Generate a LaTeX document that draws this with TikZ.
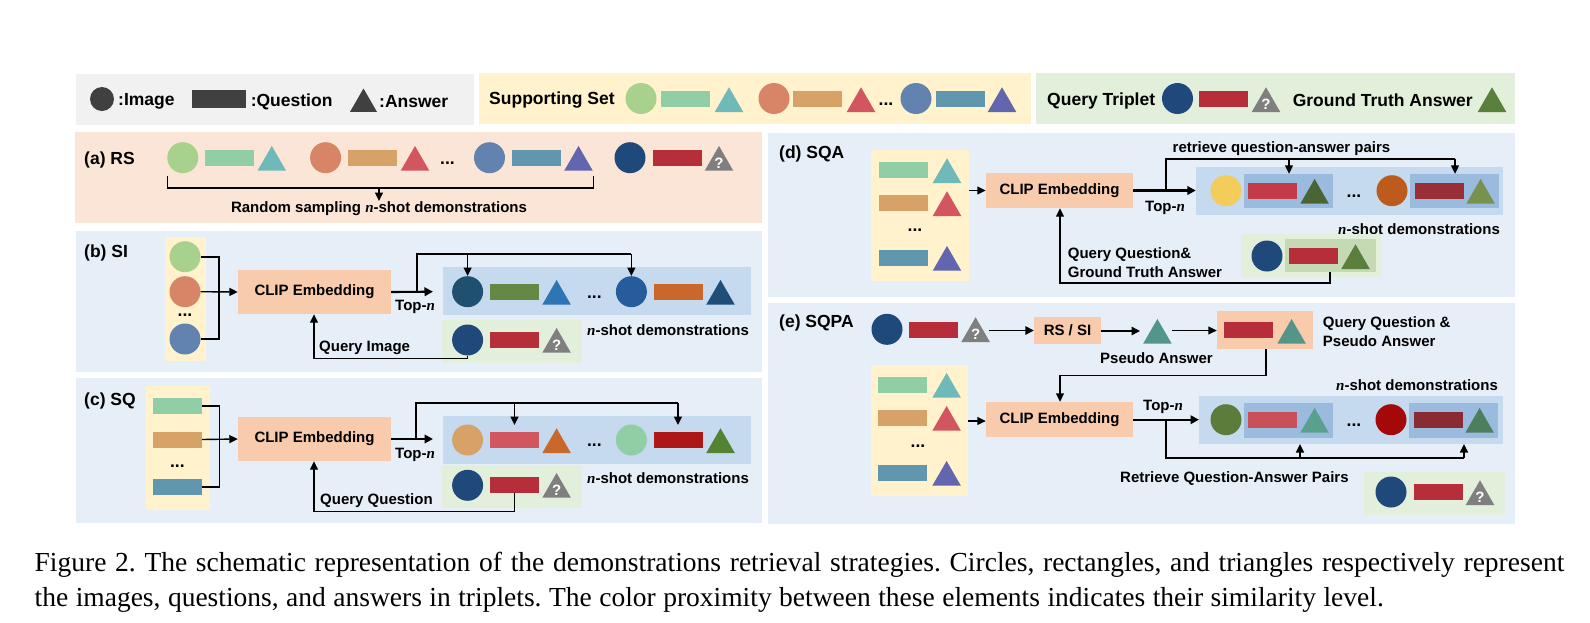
\documentclass[tikz,border=0pt]{standalone}
\usepackage{fontspec}
\setmainfont{Liberation Sans}
\newfontfamily\capfont{Liberation Serif}
\usetikzlibrary{arrows.meta,shapes.geometric}
\definecolor{pgray}{HTML}{F1F1F1}\definecolor{pyel}{HTML}{FFF2CC}\definecolor{pgrn}{HTML}{E2EFDA}
\definecolor{ppch}{HTML}{FBE5D6}\definecolor{pblu}{HTML}{E6EEF8}\definecolor{bband}{HTML}{C5D9EF}
\definecolor{iband}{HTML}{9ABBDD}\definecolor{clipc}{HTML}{F8CBAD}\definecolor{igrn}{HTML}{C5D9B4}
\definecolor{dk}{HTML}{404040}
\definecolor{lgr}{HTML}{A9D18E}\definecolor{mint}{HTML}{92CEA5}\definecolor{teal}{HTML}{6FB9B9}
\definecolor{salm}{HTML}{D78566}\definecolor{tanc}{HTML}{D7A268}\definecolor{rose}{HTML}{D25660}
\definecolor{stee}{HTML}{6282B0}\definecolor{blug}{HTML}{6096AE}\definecolor{purp}{HTML}{6266AE}
\definecolor{navy}{HTML}{20497B}\definecolor{redq}{HTML}{B62E3A}\definecolor{gryq}{HTML}{7F7F7F}
\definecolor{gta}{HTML}{5B7F3D}
\definecolor{b1}{HTML}{20506F}\definecolor{b2}{HTML}{658945}\definecolor{b3}{HTML}{2E75B6}
\definecolor{b4}{HTML}{265B9C}\definecolor{b5}{HTML}{C8682A}\definecolor{b6}{HTML}{1F4E79}
\definecolor{c5}{HTML}{AE1717}\definecolor{c6}{HTML}{548235}
\definecolor{d1}{HTML}{F3CC5C}\definecolor{d2}{HTML}{C33B46}\definecolor{d3}{HTML}{4A6535}
\definecolor{d4}{HTML}{BC5B1C}\definecolor{d5}{HTML}{9A2E36}\definecolor{d6}{HTML}{76924E}
\definecolor{e0}{HTML}{52968A}\definecolor{e1}{HTML}{5B7C3A}\definecolor{e2}{HTML}{C95058}
\definecolor{e3}{HTML}{5AA08F}\definecolor{e4}{HTML}{A50808}\definecolor{e5}{HTML}{8A2A32}\definecolor{e6}{HTML}{4B7F5D}
\newcommand{\fsA}{\fontsize{15}{18}\selectfont}
\newcommand{\fsB}{\fontsize{17.5}{21}\selectfont}
\newcommand{\nn}{{\capfont\bfseries\itshape n}}
\tikzset{
  imgn/.style={circle,inner sep=0pt,minimum size=31,fill=#1},
  qnn/.style={rectangle,inner sep=0pt,minimum width=49,minimum height=16,fill=#1},
  ann/.style={regular polygon,regular polygon sides=3,inner sep=0pt,minimum size=33,fill=#1},
  lab/.style={inner sep=0pt,font=\bfseries\fsA,anchor=west,yshift=-1.2pt},
  labB/.style={inner sep=0pt,font=\bfseries\fsB,anchor=west,yshift=-1.5pt},
  dots/.style={inner sep=0pt,font=\bfseries\fsB,anchor=base},
  conn/.style={line width=1.7pt,black},
  arr/.style={line width=2.1pt,black,-{Triangle[length=8.5pt,width=8.5pt]}},
  thin arr/.style={line width=1.4pt,black,-{Triangle[length=8.5pt,width=8pt]}},
  back arr/.style={line width=1.4pt,black,-{Triangle[length=8.5pt,width=8pt]}},
  capl/.style={inner sep=0pt,anchor=base west,font=\capfont\fontsize{27.5}{34}\selectfont},
}
\newcommand{\Cc}[4]{\node[imgn=#4] (#1) at (#2,#3) {};}
\newcommand{\Qq}[4]{\node[qnn=#4] (#1) at (#2,#3) {};}
\newcommand{\Aa}[4]{\node[ann=#4] (#1) at (#2,#3-8.25) {};}
\newcommand{\Aq}[3]{\node[ann=gryq] (#1) at (#2,#3-8.25) {};\node[inner sep=0pt,text=white,font=\bfseries\fsA] (#1q) at (#2,#3-7.5) {?};}
\newcommand{\Bx}[7]{\pgfmathsetmacro\cxa{(#2+#4)/2}\pgfmathsetmacro\cya{(#3+#5)/2}\pgfmathsetmacro\wa{#4-#2}\pgfmathsetmacro\ha{#5-#3}%
  \node[rectangle,inner sep=0pt,fill=#6,minimum width=\wa,minimum height=\ha,font=\bfseries\fsA] (#1) at (\cxa,\cya) {#7};}
\begin{document}
\begin{tikzpicture}[x=1pt,y=-1pt]
\useasboundingbox (0,0) rectangle (1590,622);
% ---------- panels
\Bx{lg}{76}{74}{474}{125}{pgray}{}
\Bx{ly}{479}{73}{1031}{124}{pyel}{}
\Bx{lq}{1036}{73}{1515}{124}{pgrn}{}
\Bx{pa}{75}{132}{762}{223}{ppch}{}
\Bx{pb}{76}{231}{762}{372}{pblu}{}
\Bx{pc}{76}{378}{762}{523}{pblu}{}
\Bx{pd}{768}{133}{1515}{297}{pblu}{}
\Bx{pe}{768}{303}{1515}{524}{pblu}{}
% ---------- legend
\node[imgn=dk,minimum size=24] (lgc) at (102,99) {};
\node[labB] (lgct) at (118,100) {:Image};
\node[qnn=dk,minimum width=54,minimum height=18] (lgr) at (219,99) {};
\node[labB] (lgrt) at (250.6,100) {:Question};
\node[ann=dk,minimum size=31] (lga) at (363.5,104) {};
\node[labB] (lgat) at (379,100) {:Answer};
\node[labB] (lyt) at (489,99) {Supporting Set};
\Cc{ly1}{641}{98.5}{lgr}\Qq{ly2}{685.4}{99}{mint}\Aa{ly3}{729}{112}{teal}
\Cc{ly4}{774}{98.5}{salm}\Qq{ly5}{817.6}{99}{tanc}\Aa{ly6}{861}{112}{rose}
\node[dots] (lyd) at (886,105) {...};
\Cc{ly7}{916}{98.5}{stee}\Qq{ly8}{960}{99}{blug}\Aa{ly9}{1002}{112}{purp}
\node[labB] (lqt) at (1047,99) {Query Triplet};
\Cc{lq1}{1177.5}{98.5}{navy}\Qq{lq2}{1223}{99}{redq}\Aq{lq3}{1266}{112}
\node[labB] (lqg) at (1292.6,99) {Ground Truth Answer};
\Aa{lq4}{1492}{112}{gta}
% ---------- (a)
\node[labB] (at) at (84,158.7) {(a) RS};
\Cc{a1}{182.8}{157.7}{lgr}\Qq{a2}{229.6}{158}{mint}\Aa{a3}{271.8}{170.7}{teal}
\Cc{a4}{325.6}{157.7}{salm}\Qq{a5}{372.5}{158}{tanc}\Aa{a6}{415}{170.7}{rose}
\node[dots] (ad) at (447.5,164) {...};
\Cc{a7}{489.5}{157.7}{stee}\Qq{a8}{536}{158}{blug}\Aa{a9}{578.5}{170.7}{purp}
\Cc{a10}{630}{157.7}{navy}\Qq{a11}{677.4}{158}{redq}\Aq{a12}{719}{170.7}
\coordinate (abl) at (167.6,176);\coordinate (abr) at (593.5,176);
\coordinate (abm) at (379,188);\coordinate (abe) at (379,201);
\draw[conn] (abl) |- (abm) -| (abr);
\draw[thin arr] (abm) -- (abe);
\node[lab,anchor=center] (atx) at (379,207.5) {Random sampling \nn-shot demonstrations};
% ---------- (b)
\node[labB] (bt) at (84,251) {(b) SI};
\Bx{by}{165}{237}{206}{361}{pyel}{}
\Cc{bi1}{185}{256.7}{lgr}\Cc{bi2}{185}{291.7}{salm}\Cc{bi3}{185}{339}{stee}
\node[dots] (byd) at (185,316.7) {...};
\Bx{bclip}{238}{270}{391}{314}{clipc}{CLIP Embedding}
\coordinate (bv) at (219,291.7);
\draw[conn] (bi1.east) -| (bv);
\draw[conn] (bi3.east) -| (bv);
\draw[thin arr] (bi2.east) -- (bclip.west);
\Bx{bb}{443}{267}{751}{315}{bband}{}
\Cc{b11}{467.6}{291.7}{b1}\Qq{b12}{514.5}{292}{b2}\Aa{b13}{556.6}{304.7}{b3}
\node[dots] (bbd) at (594.4,298.3) {...};
\Cc{b14}{631.4}{291.7}{b4}\Qq{b15}{678.5}{292}{b5}\Aa{b16}{720.5}{304.7}{b6}
\coordinate (bo) at (433,291.7);\coordinate (bj) at (416.7,291.7);
\coordinate (bt1) at (416.7,254.3);\coordinate (bt2) at (467.6,254.3);\coordinate (bt3) at (631.4,254.3);
\draw[arr] (bclip.east) -- (bo);
\draw[conn] (bj) -- (bt1) -- (bt3);
\draw[thin arr] (bt2) -- (b11.north);
\draw[thin arr] (bt3) -- (b14.north);
\node[lab] (btop) at (395,306) {Top-\nn};
\Bx{bg}{442}{320}{582}{363}{pgrn}{}
\Cc{bq1}{467.6}{340}{navy}\Qq{bq2}{514.5}{340}{redq}\Aq{bq3}{556.6}{352.7}
\node[lab] (bn) at (587,329) {\nn-shot demonstrations};
\coordinate (bq) at (314,358.7);
\draw[back arr] (bq1.south) |- (bq) -- (bclip.south -| bq);
\node[lab] (bqt) at (319,347) {Query Image};
% ---------- (c)
\node[labB] (ct) at (84,399.7) {(c) SQ};
\Bx{cy}{146}{386}{210}{510}{pyel}{}
\Qq{ci1}{177.4}{406}{mint}\Qq{ci2}{177.4}{439.5}{tanc}\Qq{ci3}{177.4}{487}{blug}
\node[dots] (cyd) at (177.4,467.7) {...};
\Bx{cclip}{238}{417}{391}{461}{clipc}{CLIP Embedding}
\coordinate (cv) at (219.4,439.5);
\draw[conn] (ci1.east) -| (cv);
\draw[conn] (ci3.east) -| (cv);
\draw[thin arr] (ci2.east) -- (cclip.west);
\Bx{cb}{443}{416}{751}{464}{bband}{}
\Cc{c11}{467.6}{440}{tanc}\Qq{c12}{514.5}{440}{rose}\Aa{c13}{556.6}{453}{b5}
\node[dots] (cbd) at (594.4,446) {...};
\Cc{c14}{631.4}{440}{mint}\Qq{c15}{678.5}{440}{c5}\Aa{c16}{720.5}{453}{c6}
\coordinate (co) at (433,439);\coordinate (cj) at (416,439);
\coordinate (ct1) at (416,403.3);\coordinate (ct2) at (514.5,403.3);\coordinate (ct3) at (678,403.3);
\coordinate (ca2) at (514.5,425);\coordinate (ca3) at (678,425);
\draw[arr] (cclip.east) -- (co);
\draw[conn] (cj) -- (ct1) -- (ct3);
\draw[thin arr] (ct2) -- (ca2);
\draw[thin arr] (ct3) -- (ca3);
\node[lab] (ctop) at (395,454) {Top-\nn};
\Bx{cg}{442}{465}{582}{508}{pgrn}{}
\Cc{cq1}{467.6}{485.3}{navy}\Qq{cq2}{514.5}{485}{redq}\Aq{cq3}{556.6}{497.7}
\node[lab] (cn) at (587,477.3) {\nn-shot demonstrations};
\coordinate (cq) at (314,511.7);
\draw[back arr] (cq2.south) |- (cq) -- (cclip.south -| cq);
\node[lab] (cqt) at (320,499) {Query Question};
% ---------- (d)
\node[labB] (dt) at (779,152) {(d) SQA};
\Bx{dy}{871}{150}{969}{281}{pyel}{}
\Qq{ds1}{903}{170}{mint}\Aa{ds2}{947}{183}{teal}
\Qq{ds3}{903}{203}{tanc}\Aa{ds4}{947}{216}{rose}
\node[dots] (dyd) at (915,231.7) {...};
\Qq{ds5}{903}{258}{blug}\Aa{ds6}{947}{270.7}{purp}
\Bx{dclip}{986}{173}{1133}{208}{clipc}{CLIP Embedding}
\coordinate (din) at (969,190.5);
\draw[thin arr] (din) -- (dclip.west |- din);
\Bx{db}{1196}{167}{1503}{215}{bband}{}
\Cc{d11}{1226}{190.7}{d1}
\Bx{di1}{1244}{174}{1333}{208}{iband}{}
\Qq{d12}{1272.7}{191}{d2}\Aa{d13}{1314.6}{203.7}{d3}
\node[dots] (dbd) at (1354,197) {...};
\Cc{d14}{1392}{190.7}{d4}
\Bx{di2}{1410}{174}{1499}{208}{iband}{}
\Qq{d15}{1439}{191}{d5}\Aa{d16}{1480.6}{203.7}{d6}
\coordinate (dj) at (1166,190.5);\coordinate (dt1) at (1166,158.7);\coordinate (dt2) at (1289,158.7);\coordinate (dt3) at (1455,158.7);
\draw[arr] (dclip.east |- dj) -- (db.west |- dj);
\draw[conn] (dj) -- (dt1) -- (dt3);
\draw[thin arr] (dt2) -- (di1.north -| dt2);
\draw[thin arr] (dt3) -- (di2.north -| dt3);
\node[lab] (dr) at (1172.5,147) {retrieve question-answer pairs};
\node[lab] (dtop) at (1145,206.7) {Top-\nn};
\node[lab] (dn) at (1338,227.7) {\nn-shot demonstrations};
\Bx{dg}{1241}{234}{1381}{277}{pgrn}{}
\Cc{dq1}{1267}{256}{navy}
\Bx{dgi}{1285.4}{239}{1376}{272}{igrn}{}
\Qq{dq2}{1313.6}{256}{redq}\Aa{dq3}{1355.5}{269}{gta}
\coordinate (dqs) at (1330,272);\coordinate (dqb) at (1330,283);\coordinate (dqc) at (1060,283);
\draw[back arr] (dqs) -- (dqb) -- (dqc) -- (dclip.south -| dqc);
\node[lab] (dq4) at (1067.7,253.3) {Query Question\&};
\node[lab] (dq5) at (1067.7,271) {Ground Truth Answer};
% ---------- (e)
\node[labB] (et) at (779,321.7) {(e) SQPA};
\Cc{e1c}{887}{329.3}{navy}\Qq{e2c}{933.5}{330}{redq}\Aq{e3c}{975.6}{342}
\Bx{ers}{1034}{317}{1101}{344}{clipc}{RS / SI}
\Aa{epa}{1157.4}{343.7}{e0}
\Bx{eqp}{1217}{311}{1313}{349}{clipc}{}
\Qq{eq1}{1248.6}{330}{redq}\Aa{eq2}{1291.6}{343.7}{e0}
\coordinate (ea1) at (989,330.5);
\draw[arr,line width=1.6pt] (ea1) -- (ers.west |- ea1);
\coordinate (ea2) at (1140,331);
\draw[arr,line width=1.6pt] (ers.east |- ea2) -- (ea2);
\coordinate (ea3) at (1171.5,330.5);
\draw[thin arr] (ea3) -- (eqp.west |- ea3);
\node[lab] (ept) at (1100,357) {Pseudo Answer};
\node[lab] (eq3) at (1322.7,322.3) {Query Question \&};
\node[lab] (eq4) at (1322.7,339.7) {Pseudo Answer};
\Bx{ey}{871}{365}{968}{496}{pyel}{}
\Qq{es1}{902}{385}{mint}\Aa{es2}{946.6}{397.7}{teal}
\Qq{es3}{902}{418}{tanc}\Aa{es4}{946.6}{430.7}{rose}
\node[dots] (eyd) at (918,447.3) {...};
\Qq{es5}{902}{473}{blug}\Aa{es6}{946.6}{485.7}{purp}
\Bx{eclip}{986}{402}{1133}{437}{clipc}{CLIP Embedding}
\coordinate (eb1) at (1266,349);\coordinate (eb2) at (1266,375.3);\coordinate (eb3) at (1060,375.3);
\draw[back arr] (eb1) -- (eb2) -- (eb3) -- (eclip.north -| eb3);
\coordinate (ein) at (968,421);
\draw[thin arr] (ein) -- (eclip.west |- ein);
\Bx{eb}{1199}{396}{1503}{444}{bband}{}
\Cc{e11}{1226}{419.7}{e1}
\Bx{ei1}{1244}{403}{1333}{438}{iband}{}
\Qq{e12}{1272.7}{420}{e2}\Aa{e13}{1314.6}{432.7}{e3}
\node[dots] (ebd) at (1354,426.7) {...};
\Cc{e14}{1391}{419.7}{e4}
\Bx{ei2}{1409}{403}{1498}{438}{iband}{}
\Qq{e15}{1438}{420}{e5}\Aa{e16}{1479.6}{432.7}{e6}
\coordinate (ej) at (1166,419.7);\coordinate (eo) at (1199,419.7);
\coordinate (et0) at (1133,419.7);
\coordinate (eb4) at (1166,458);\coordinate (eb5) at (1300,458);\coordinate (eb6) at (1464,458);
\coordinate (eu5) at (1300,444);\coordinate (eu6) at (1464,444);
\draw[arr] (et0) -- (eo);
\draw[conn] (ej) -- (eb4) -- (eb6);
\draw[thin arr] (eb5) -- (eu5);
\draw[thin arr] (eb6) -- (eu6);
\node[lab] (etop) at (1143,405.7) {Top-\nn};
\node[lab] (en) at (1336,384) {\nn-shot demonstrations};
\node[lab] (er) at (1120,477) {Retrieve Question-Answer Pairs};
\Bx{eg}{1364}{472}{1505}{515}{pgrn}{}
\Cc{eq5}{1391}{492}{navy}\Qq{eq6}{1438}{492}{redq}\Aq{eq7}{1480}{505}
% ---------- caption
\node[capl] (cap1) at (34.5,571.7) {\frenchspacing\makebox[1529.5pt][s]{Figure 2. The schematic representation of the demonstrations retrieval strategies. Circles, rectangles, and triangles respectively represent}};
\node[capl] (cap2) at (34.5,606) {\frenchspacing\makebox[1349pt][s]{the images, questions, and answers in triplets. The color proximity between these elements indicates their similarity level.}};
\end{tikzpicture}
\end{document}
